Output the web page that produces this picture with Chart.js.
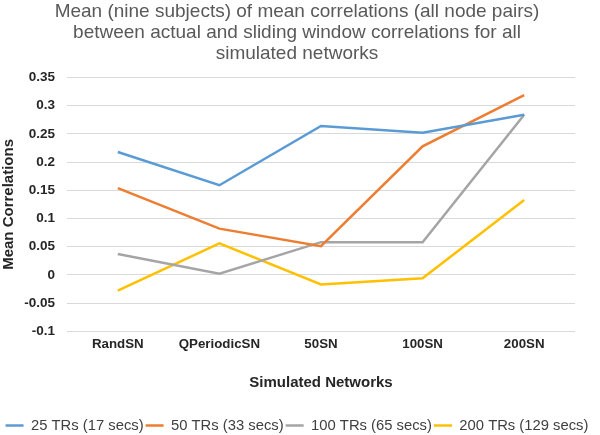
<!DOCTYPE html>
<html>
<head>
<meta charset="utf-8">
<script src="https://cdn.jsdelivr.net/npm/chart.js@4.4.0/dist/chart.umd.min.js"></script>
<style>
  body { margin: 0; background: #ffffff; }
  #wrap { width: 600px; height: 435px; }
</style>
</head>
<body>
<div id="wrap"><canvas id="corrChart"></canvas></div>
<script>
// 類別
const networks = ['RandSN', 'QPeriodicSN', '50SN', '100SN', '200SN'];

// 各窗長的平均相關
const tr25 = [0.218, 0.159, 0.264, 0.252, 0.284];
const tr50 = [0.154, 0.082, 0.051, 0.228, 0.319];
const tr100 = [0.037, 0.002, 0.058, 0.058, 0.284];
const tr200 = [-0.028, 0.056, -0.017, -0.006, 0.133];

const seriesNames = ['25 TRs (17 secs)', '50 TRs (33 secs)', '100 TRs (65 secs)', '200 TRs (129 secs)'];
const seriesColors = ['#5b9bd5', '#ed7d31', '#a5a5a5', '#ffc000'];

const titleLines = [
    'Mean (nine subjects) of mean correlations (all node pairs)',
    'between actual and sliding window correlations for all',
    'simulated networks'
];

function makeSet(i, data){
    return {
        label: seriesNames[i],
        data: data,
        borderColor: seriesColors[i],
        backgroundColor: seriesColors[i],
        borderWidth: 2.5,
        pointRadius: 0,
        tension: 0,
        fill: false,
        yAxisID: 'y'
    };
}

const ctx = document.getElementById('corrChart').getContext('2d');

const LineChart = new Chart(ctx, {
    type: 'line',
    data: {
        labels: networks,
        datasets: [
            makeSet(0, tr25),
            makeSet(1, tr50),
            makeSet(2, tr100),
            makeSet(3, tr200)
        ]
    },
    options: {
        responsive: true,
        maintainAspectRatio: false,
        animation: false,
        layout: {
            padding: { left: 0, right: 6, top: 2, bottom: -8 }
        },
        scales: {
            x: {
                offset: true,
                grid: { display: false, drawTicks: false },
                border: { display: false },
                ticks: {
                    color: '#262626',
                    font: { family: 'Liberation Sans', size: 13.3, weight: 'bold' },
                    maxRotation: 0,
                    padding: 5
                },
                title: {
                    display: true,
                    text: 'Simulated Networks',
                    color: '#262626',
                    font: { family: 'Liberation Sans', size: 15, weight: 'bold' },
                    padding: { top: 17, bottom: 24 }
                }
            },
            y: {
                min: -0.1,
                max: 0.35,
                afterFit: function(axis){ axis.width = 67; },
                grid: { color: '#d9d9d9', lineWidth: 1, drawTicks: false },
                border: { display: false },
                ticks: {
                    stepSize: 0.05,
                    color: '#262626',
                    padding: 12,
                    font: { family: 'Liberation Sans', size: 13.5, weight: 'bold' },
                    callback: function(v){ return parseFloat(v.toFixed(2)).toString(); }
                },
                title: {
                    display: true,
                    text: 'Mean Correlations',
                    color: '#262626',
                    font: { family: 'Liberation Sans', size: 15, weight: 'bold' },
                    padding: { top: 0, bottom: 0 }
                }
            },
            // 右側留白,讓標題與圖例置中
            spacer: {
                type: 'linear',
                position: 'right',
                display: true,
                afterFit: function(axis){ axis.width = 19; },
                grid: { display: false, drawOnChartArea: false, drawTicks: false },
                border: { display: false },
                ticks: { display: false }
            }
        },
        plugins: {
            title: {
                display: true,
                text: titleLines,
                color: '#595959',
                font: { family: 'Liberation Sans', size: 19, weight: 'normal', lineHeight: 1.08 },
                padding: { top: 0, bottom: 14 }
            },
            legend: {
                position: 'bottom',
                labels: {
                    usePointStyle: true,
                    pointStyle: 'line',
                    pointStyleWidth: 18,
                    padding: 2,
                    color: '#404040',
                    font: { family: 'Liberation Sans', size: 14.8 }
                }
            },
            tooltip: { enabled: false }
        }
    }
});
</script>
</body>
</html>
